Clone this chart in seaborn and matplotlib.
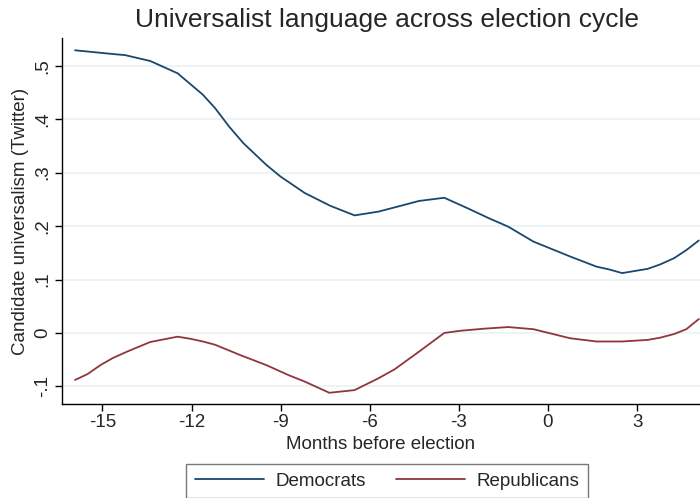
import matplotlib
matplotlib.use("Agg")
import matplotlib.pyplot as plt
import seaborn as sns
import pandas as pd

# Smoothed universalism score by months before election
dem_months = [-15.92, -14.65, -14.24, -13.39, -12.47, -11.62, -11.21, -10.73, -10.25,
              -9.49, -9.01, -8.19, -7.33, -6.51, -5.71, -5.02, -4.34, -3.49, -2.69,
              -2.0, -1.34, -0.49, 0.75, 1.64, 2.05, 2.5, 3.36, 3.77, 4.25, 4.66, 5.08]
dem_values = [0.529, 0.522, 0.520, 0.509, 0.486, 0.446, 0.421, 0.386, 0.355,
              0.315, 0.293, 0.262, 0.238, 0.220, 0.227, 0.237, 0.247, 0.253, 0.233,
              0.215, 0.199, 0.171, 0.143, 0.124, 0.119, 0.112, 0.120, 0.128, 0.140, 0.155, 0.173]

rep_months = [-15.92, -15.5, -15.06, -14.65, -14.17, -13.39, -12.47, -12.03, -11.62,
              -11.21, -10.38, -9.49, -8.73, -8.19, -7.36, -6.51, -5.71, -5.16, -4.34,
              -3.49, -2.96, -2.14, -1.34, -0.49, 0.75, 1.64, 2.5, 3.36, 3.77, 4.25, 4.66, 5.08]
rep_values = [-0.088, -0.077, -0.060, -0.047, -0.035, -0.017, -0.007, -0.011, -0.016,
              -0.022, -0.041, -0.060, -0.079, -0.091, -0.112, -0.107, -0.085, -0.068, -0.035,
              0.000, 0.004, 0.008, 0.011, 0.007, -0.010, -0.016, -0.016, -0.013, -0.009, -0.002, 0.007, 0.026]

x_ticks = [-15, -12, -9, -6, -3, 0, 3]
y_ticks = [-0.1, 0, 0.1, 0.2, 0.3, 0.4, 0.5]
y_tick_labels = ["-.1", "0", ".1", ".2", ".3", ".4", ".5"]

df = pd.concat([
    pd.DataFrame({"month": dem_months, "value": dem_values, "party": "Democrats"}),
    pd.DataFrame({"month": rep_months, "value": rep_values, "party": "Republicans"}),
], ignore_index=True)

sns.set_theme(style="white")
plt.rcParams["font.family"] = ["Liberation Sans", "DejaVu Sans"]

fs = 13.5
fig = plt.figure(figsize=(7.0, 4.98), dpi=100)
ax = fig.add_axes([62 / 700, 94 / 498, 638 / 700, 366 / 498])

palette = {"Democrats": "#1a476f", "Republicans": "#90353b"}
sns.lineplot(data=df, x="month", y="value", hue="party", palette=palette,
             linewidth=1.3, ax=ax, legend=False, sort=True, estimator=None)

ax.set_xlim(-16.36, 5.12)
ax.set_ylim(-0.133, 0.552)

for y in y_ticks:
    ax.axhline(y, color="#eaf2f3", linewidth=1.2, zorder=0)

ax.set_xticks(x_ticks)
ax.set_xticklabels([str(t) for t in x_ticks], fontsize=fs)
ax.set_yticks(y_ticks)
ax.set_yticklabels(y_tick_labels, fontsize=fs, rotation=90, va="center")
ax.tick_params(axis="both", direction="out", length=5, width=1, color="black",
               left=True, bottom=True, pad=2.5)

for side in ["top", "right"]:
    ax.spines[side].set_visible(False)
for side in ["left", "bottom"]:
    ax.spines[side].set_color("black")
    ax.spines[side].set_linewidth(1)

ax.set_xlabel("Months before election", fontsize=fs, labelpad=3)
ax.set_ylabel("Candidate universalism (Twitter)", fontsize=fs, labelpad=4)
fig.text(387 / 700, 1 - 20 / 498, "Universalist language across election cycle",
         ha="center", va="center", fontsize=19)

handles = [plt.Line2D([], [], color=palette["Democrats"], linewidth=1.3),
           plt.Line2D([], [], color=palette["Republicans"], linewidth=1.3)]
leg = fig.legend(handles, ["Democrats", "Republicans"], loc="upper center",
                 bbox_to_anchor=(387 / 700, 1 - 464 / 498), ncol=2,
                 fontsize=fs, frameon=True, fancybox=False, handlelength=3.7,
                 columnspacing=1.6, handletextpad=0.6, borderpad=0.45,
                 borderaxespad=0)
leg.get_frame().set_edgecolor("#555555")
leg.get_frame().set_linewidth(1)

fig.savefig("out.png", dpi=100, facecolor="white")
